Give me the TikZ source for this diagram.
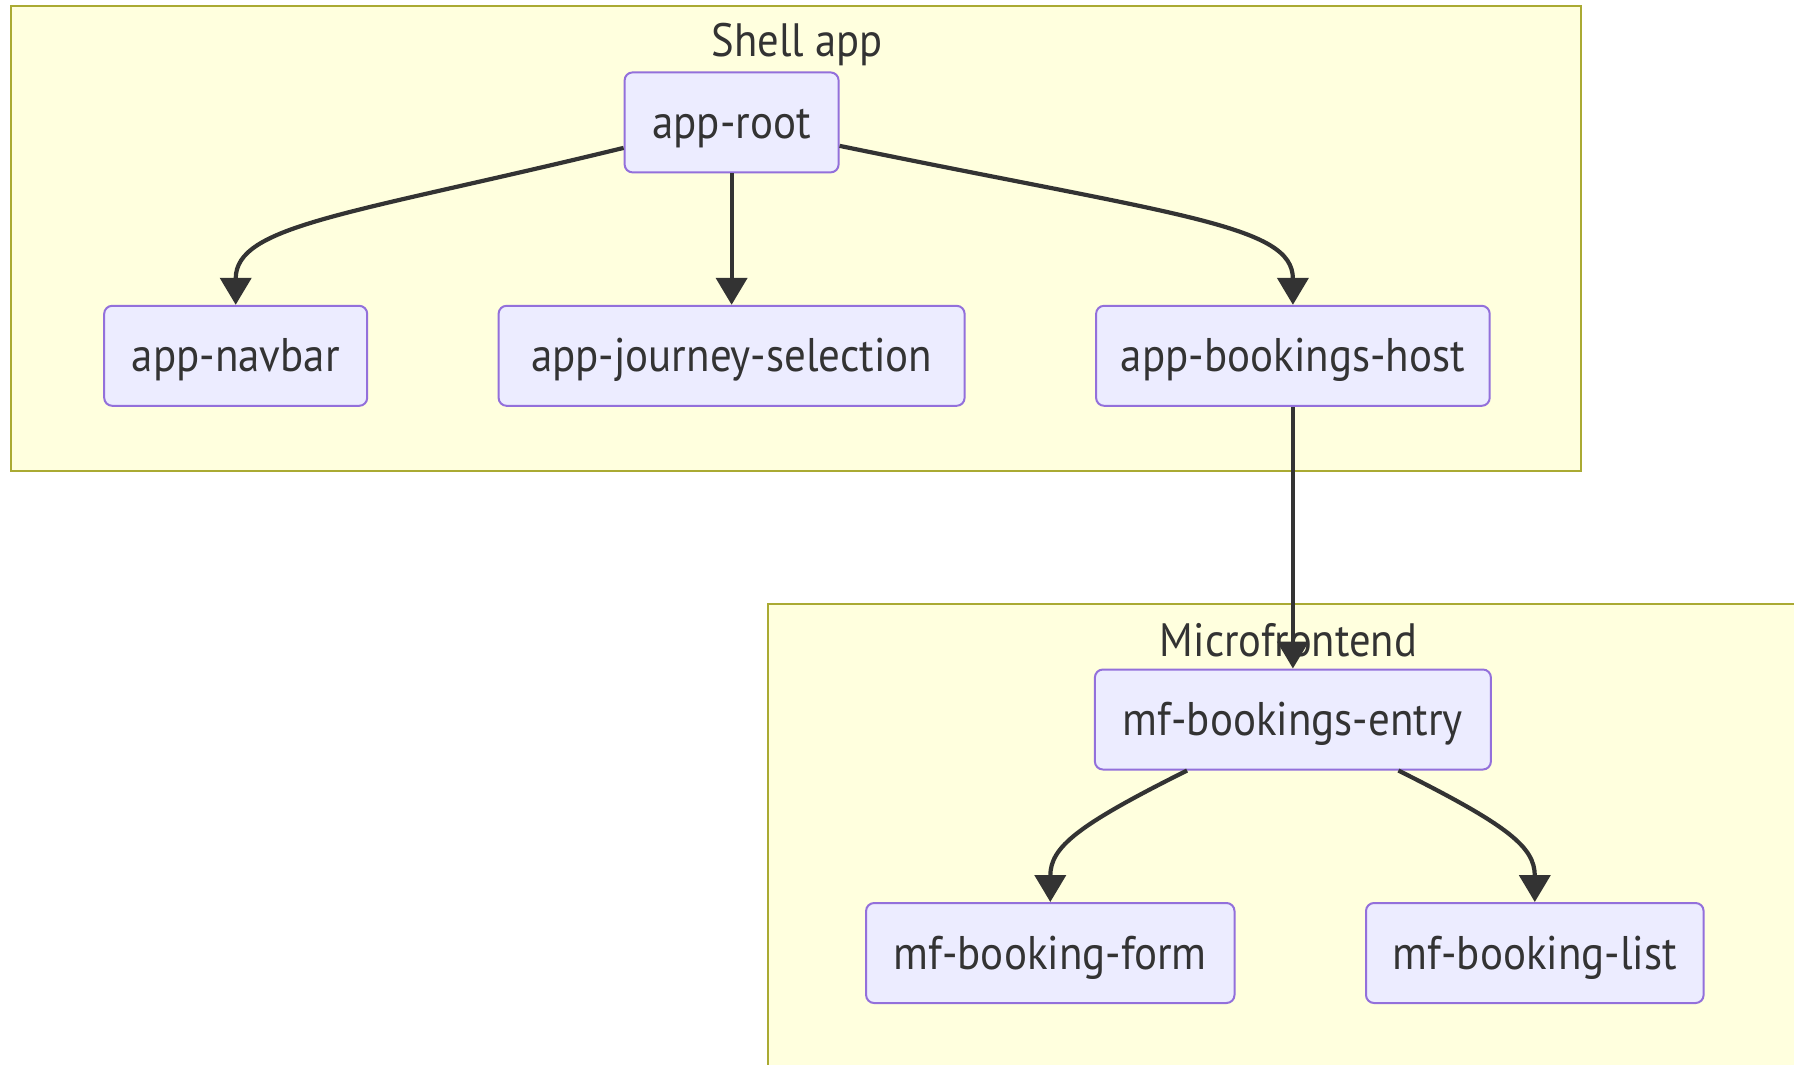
\documentclass[tikz,border=0pt]{standalone}
\usepackage{fontspec}
\setmainfont[FakeStretch=0.91]{PT Sans}
\usetikzlibrary{arrows.meta,calc}
\definecolor{nodefill}{HTML}{ECECFF}
\definecolor{nodeline}{HTML}{9370DB}
\definecolor{clusterfill}{HTML}{FFFFDE}
\definecolor{clusterline}{HTML}{AAAA33}
\definecolor{ink}{HTML}{333333}

\begin{document}
\begin{tikzpicture}[x=0.5pt,y=-0.5pt,
  comp/.style={draw=nodeline, fill=nodefill, line width=1pt, rounded corners=4pt,
    minimum height=50pt, inner sep=0pt, text=ink, text height=16.5pt, text depth=0.5pt,
    font=\fontsize{23.6}{28}\selectfont},
  cluster/.style={draw=clusterline, fill=clusterfill, line width=1pt},
  title/.style={text=ink, font=\fontsize{23.4}{28}\selectfont, inner sep=0pt, anchor=base},
  link/.style={draw=ink, line width=2.1pt, -{Triangle[length=13.5pt,width=15.5pt]}}]

\useasboundingbox (0,0) rectangle (1794,1065);
\clip (0,0) rectangle (1794,1065);

% subgraph frames
\draw[cluster] (11.4,5.7) rectangle (1581,471.4);
\draw[cluster] (768,604) rectangle (1840,1110);
\node[title] (shelltitle) at (797,57) {Shell app};
\node[title] (mftitle) at (1288.5,656) {Microfrontend};

% components
\node[comp, minimum width=107pt] (root) at (731.6,122.4) {app-root};
\node[comp, minimum width=131.5pt] (nav) at (235.7,355.8) {app-navbar};
\node[comp, minimum width=233pt] (journey) at (731.6,355.8) {app-journey-selection};
\node[comp, minimum width=196.8pt] (host) at (1292.9,355.8) {app-bookings-host};
\node[comp, minimum width=198pt] (entry) at (1292.9,719.5) {mf-bookings-entry};
\node[comp, minimum width=184.2pt] (form) at (1050.3,953) {mf-booking-form};
\node[comp, minimum width=168.8pt] (list) at (1534.8,953) {mf-booking-list};

% connectors
\coordinate (rootL) at ($(root.south west)!0.25!(root.north west)$);
\coordinate (rootR) at ($(root.south east)!0.27!(root.north east)$);
\coordinate (entryL) at ($(entry.south west)!0.234!(entry.south east)$);
\coordinate (entryR) at ($(entry.south west)!0.765!(entry.south east)$);

\draw[link] (rootL) .. controls +(-275,67) and +(0,-80) .. (nav.north);
\draw[link] (root.south) -- (journey.north);
\draw[link] (rootR) .. controls +(340,70) and +(0,-80) .. (host.north);
\draw[link] (host.south) -- (entry.north);
\draw[link] (entryL) .. controls +(-110,55) and +(0,-55) .. (form.north);
\draw[link] (entryR) .. controls +(110,55) and +(0,-55) .. (list.north);
\end{tikzpicture}
\end{document}
